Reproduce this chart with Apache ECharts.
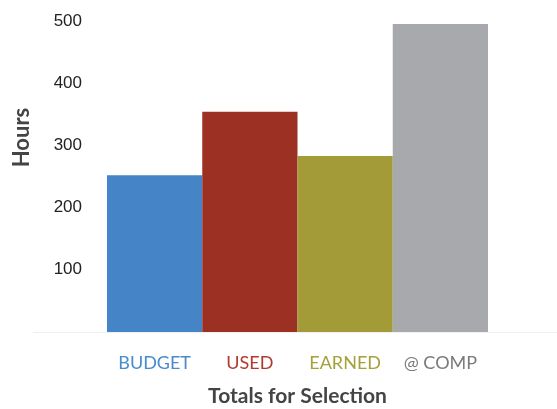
<!DOCTYPE html>
<html><head><meta charset="utf-8">
<script src="https://cdn.jsdelivr.net/npm/echarts@6/dist/echarts.min.js"></script>
<style>html,body{margin:0;padding:0;background:#fff}#c{width:557px;height:409px}</style>
</head><body><div id="c"></div>
<script>
const categories = ['BUDGET', 'USED', 'EARNED', '@ COMP'];
const values = [252, 354, 283, 495];
const barColors = ['#4484c7', '#9c3022', '#a39b38', '#a8a9ad'];
const labelColors = ['#4a8bcc', '#b03a2e', '#a6a03c', '#7a7a7a'];
const yTicks = [0, 100, 200, 300, 400, 500];

const chart = echarts.init(document.getElementById('c'), null, {renderer: 'canvas'});
chart.setOption({
  animation: false,
  graphic: [{type: 'line', shape: {x1: 33, y1: 332.5, x2: 557, y2: 332.5}, style: {stroke: '#f0f0f0', lineWidth: 1}, z: 0}],
  grid: {left: 107, right: 69, top: 21, bottom: 77, containLabel: false, outerBoundsMode: 'none'},
  xAxis: {
    type: 'category', data: categories,
    axisLine: {show: false}, axisTick: {show: false},
    axisLabel: {
      interval: 0, margin: 22, fontFamily: 'Lato', fontSize: 18,
      color: (v, i) => labelColors[i]
    },
    name: 'Totals for Selection', nameLocation: 'middle', nameGap: 54,
    nameTextStyle: {fontFamily: 'Lato', fontWeight: 'bold', fontSize: 21, color: '#444'}
  },
  yAxis: {
    type: 'value', min: yTicks[0], max: yTicks[yTicks.length - 1], interval: 100,
    splitLine: {show: false}, axisLine: {show: false}, axisTick: {show: false},
    axisLabel: {
      margin: 25, fontFamily: 'Liberation Sans', fontSize: 17, color: '#222',
      padding: [4, 0, 0, 0],
      formatter: v => v === 0 ? '' : String(v)
    },
    name: 'Hours', nameLocation: 'middle', nameGap: 74, nameRotate: 90,
    nameTextStyle: {fontFamily: 'Lato', fontWeight: 'bold', fontSize: 22, color: '#444', padding: [0, 0, 0, 78]}
  },
  series: [{
    type: 'bar', barCategoryGap: '0%',
    data: values.map((v, i) => ({value: v, itemStyle: {color: barColors[i]}}))
  }]
});
</script></body></html>
